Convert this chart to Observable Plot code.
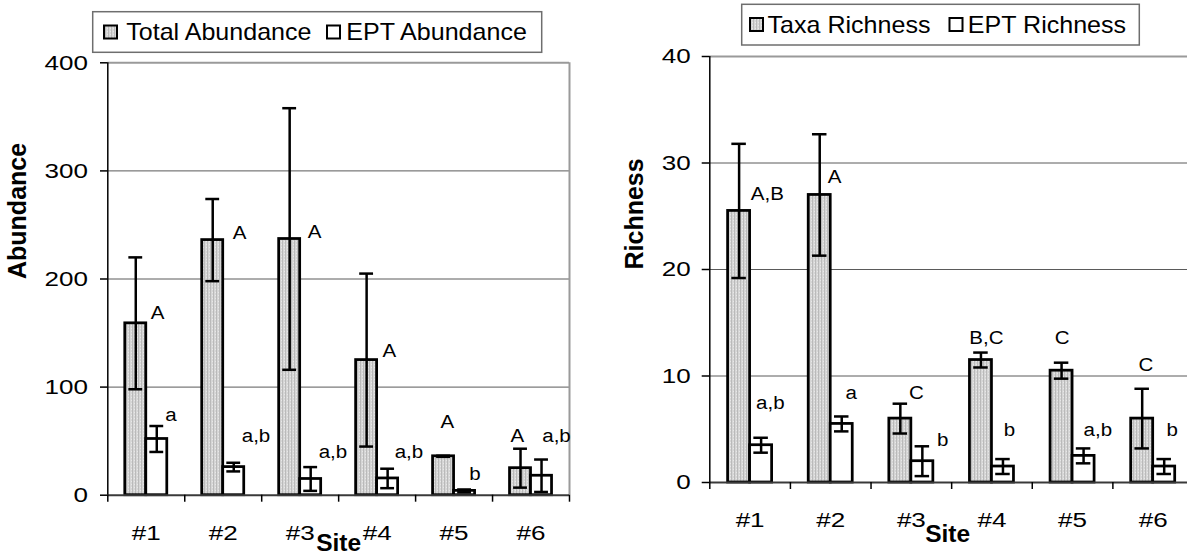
<!DOCTYPE html>
<html>
<head>
<meta charset="utf-8">
<script src="https://cdn.jsdelivr.net/npm/d3@7"></script>
<script src="https://cdn.jsdelivr.net/npm/@observablehq/plot@0.6"></script>
<style>
html, body { margin: 0; padding: 0; background: #fff; overflow: hidden; width: 1187px; height: 556px; }
#wrap { position: relative; width: 1187px; height: 556px; overflow: hidden; background: #fff; }
#wrap > svg { position: absolute; top: 0; }
</style>
</head>
<body>
<div id="wrap"></div>
<script>
// ---------- data ----------
const sites = ["#1", "#2", "#3", "#4", "#5", "#6"];

// Left chart: abundance (mean and error)
const totalAbundance    = [159, 236, 237, 125, 36, 25];
const totalAbundanceErr = [61, 38, 121, 80, 0.5, 18];
const eptAbundance      = [52, 26, 15, 15.5, 4, 18];
const eptAbundanceErr   = [12, 4, 11, 9, 1.3, 15];
const totalAbundanceGroups = ["A", "A", "A", "A", "A", "A"];
const eptAbundanceGroups   = ["a", "a,b", "a,b", "a,b", "b", "a,b"];
const abundanceTicks = [0, 100, 200, 300, 400];

// Right chart: richness (mean and error)
const taxaRichness    = [25.5, 27, 6, 11.5, 10.5, 6];
const taxaRichnessErr = [6.3, 5.7, 1.4, 0.7, 0.75, 2.8];
const eptRichness     = [3.5, 5.5, 2, 1.5, 2.5, 1.5];
const eptRichnessErr  = [0.7, 0.7, 1.4, 0.7, 0.7, 0.7];
const taxaRichnessGroups = ["A,B", "A", "C", "B,C", "C", "C"];
const eptRichnessGroups  = ["a,b", "a", "b", "b", "a,b", "b"];
const richnessTicks = [0, 10, 20, 30, 40];

// letter annotations: baseline height (data units) and nudge (px)
const totalAbundanceLabelY  = [163, 237, 238, 128, 62, 49];
const totalAbundanceLabelDx = [15, 20, 18, 16, -3, -10];
const eptAbundanceLabelY    = [69, 49, 34.6, 34.6, 14.2, 49];
const eptAbundanceLabelDx   = [8.5, 8, 8, 7, 4.7, 0.7];
const taxaRichnessLabelY    = [26.5, 28.1, 7.86, 13.0, 13.0, 10.45];
const taxaRichnessLabelDx   = [11.7, 8, 8.7, -11.7, -6.7, -3.7];
const eptRichnessLabelY     = [6.9, 7.86, 3.4, 4.35, 4.35, 4.35];
const eptRichnessLabelDx    = [-5, 3.7, 14.6, 0.7, 0, 2.4];

const FONT = "'Liberation Sans', Arial, Helvetica, sans-serif";

function patternDefs(id) {
  return `<defs><pattern id="${id}" width="3" height="3" patternUnits="userSpaceOnUse">
    <rect width="3" height="3" fill="#d6d6d6"></rect>
    <rect width="1" height="3" fill="#bababa"></rect>
    <rect x="2" y="1" width="1" height="1" fill="#e8e8e8"></rect>
  </pattern></defs>`;
}

function stretch(svg, selector, sx) {
  svg.querySelectorAll(selector).forEach(t => {
    const tr = t.getAttribute("transform") || "";
    t.setAttribute("transform", tr + ` scale(${sx},1)`);
  });
}

function buildPanel(cfg) {
  const {left, width, marginLeft, marginRight, marginTop, marginBottom, yMax, ticks,
         series, yLabel, yLabelDx, siteDx, siteDy, patternId, tickSizeY, tickPadY, tickPadX} = cfg;
  const bw = (width - marginLeft - marginRight) / sites.length;
  const w = 0.273 * bw;
  const cap = 0.18 * bw;
  const marks = [];

  // grid and frame
  marks.push(Plot.ruleY(ticks.filter(t => t > 0 && t < yMax), {stroke: "#5a5a5a", strokeWidth: 1}));
  marks.push(Plot.ruleY([yMax], {stroke: "#9a9a9a", strokeWidth: 2}));
  marks.push(Plot.ruleX([sites[sites.length - 1]], {dx: bw / 2, stroke: "#9a9a9a", strokeWidth: 2}));

  const rowsBy = series.map(s => sites.map((site, i) => ({
    site, value: s.values[i], lo: s.values[i] - s.err[i], hi: s.values[i] + s.err[i],
    group: s.groups[i], ly: s.labelY[i], ldx: s.labelDx[i]
  })));

  // bars
  rowsBy.forEach((rows, k) => {
    marks.push(Plot.barY(rows, {
      x: "site", y: "value",
      fill: k === 0 ? `url(#${patternId})` : "white",
      stroke: "black", strokeWidth: 2.75,
      insetLeft: k === 0 ? bw / 2 - w : bw / 2,
      insetRight: k === 0 ? bw / 2 : bw / 2 - w
    }));
  });

  // axes lines
  marks.push(Plot.ruleY([0], {stroke: "#3a3a3a", strokeWidth: 2}));
  marks.push(Plot.ruleX([sites[0]], {dx: -bw / 2, stroke: "black", strokeWidth: 1.5}));

  // error bars
  rowsBy.forEach((rows, k) => {
    const off = k === 0 ? -w / 2 : w / 2;
    marks.push(Plot.ruleX(rows, {x: "site", y1: "lo", y2: "hi", dx: off, stroke: "black", strokeWidth: 2.5}));
    for (const end of ["lo", "hi"]) {
      marks.push(Plot.tickY(rows, {
        x: "site", y: end, dx: off, stroke: "black", strokeWidth: 2.5,
        insetLeft: bw / 2 - cap / 2, insetRight: bw / 2 - cap / 2
      }));
    }
  });

  // group letters
  rowsBy.forEach((rows, k) => {
    const off = k === 0 ? -w / 2 : w / 2;
    rows.forEach(r => {
      marks.push(Plot.text([r], {
        x: "site", y: "ly", text: "group", dx: off + r.ldx,
        textAnchor: "start", lineAnchor: "bottom", fontSize: 19, fill: "black",
        ariaDescription: "letters"
      }));
    });
  });

  // axes
  marks.push(Plot.axisY({ticks, tickSize: tickSizeY, tickPadding: tickPadY, fontSize: 21, label: null, strokeWidth: 1.5}));
  marks.push(Plot.axisX({ticks: sites, tickSize: 0, tickPadding: tickPadX, fontSize: 21, label: null}));
  marks.push(Plot.axisX({ticks: sites, tickSize: 7, tickFormat: () => "", label: null, dx: -bw / 2, strokeWidth: 1.5}));
  marks.push(Plot.axisX({ticks: [sites[sites.length - 1]], tickSize: 7, tickFormat: () => "", label: null, dx: bw / 2, strokeWidth: 1.5}));

  // titles
  marks.push(Plot.text([yLabel], {text: d => d, frameAnchor: "left", rotate: -90, dx: yLabelDx,
    lineAnchor: "middle", fontSize: 25, fontWeight: "bold", fill: "black"}));
  marks.push(Plot.text(["Site"], {text: d => d, frameAnchor: "bottom", dx: siteDx, dy: siteDy,
    lineAnchor: "bottom", fontSize: 24.5, fontWeight: "bold", fill: "black"}));

  const svg = Plot.plot({
    width, height: 556, marginLeft, marginRight, marginTop, marginBottom,
    style: {fontFamily: FONT, fontSize: "21px", color: "black", background: "transparent", overflow: "visible"},
    x: {type: "band", domain: sites, padding: 0, round: false, axis: null},
    y: {domain: [0, yMax], axis: null},
    marks
  });
  svg.insertAdjacentHTML("afterbegin", patternDefs(patternId));
  svg.style.left = left + "px";
  stretch(svg, 'g[aria-label="y-axis tick label"] text, g[aria-label="x-axis tick label"] text', 1.24);
  stretch(svg, 'g[aria-description="letters"] text', 1.08);
  return svg;
}

const wrap = document.getElementById("wrap");

wrap.appendChild(buildPanel({
  left: 0, width: 590, marginLeft: 107.3, marginRight: 21, marginTop: 62.3, marginBottom: 61.3,
  yMax: 400, ticks: abundanceTicks, yLabel: "Abundance", yLabelDx: -89.8, siteDx: 0, siteDy: 55.8,
  patternId: "hatchL", tickSizeY: 7.3, tickPadY: 12.5, tickPadX: 30,
  series: [
    {values: totalAbundance, err: totalAbundanceErr, groups: totalAbundanceGroups, labelY: totalAbundanceLabelY, labelDx: totalAbundanceLabelDx},
    {values: eptAbundance, err: eptAbundanceErr, groups: eptAbundanceGroups, labelY: eptAbundanceLabelY, labelDx: eptAbundanceLabelDx}
  ]
}));

wrap.appendChild(buildPanel({
  left: 590, width: 620, marginLeft: 119.3, marginRight: 17, marginTop: 56, marginBottom: 74,
  yMax: 40, ticks: richnessTicks, yLabel: "Richness", yLabelDx: -75.3, siteDx: -4, siteDy: 59.7,
  patternId: "hatchR", tickSizeY: 7.6, tickPadY: 11.5, tickPadX: 29.7,
  series: [
    {values: taxaRichness, err: taxaRichnessErr, groups: taxaRichnessGroups, labelY: taxaRichnessLabelY, labelDx: taxaRichnessLabelDx},
    {values: eptRichness, err: eptRichnessErr, groups: eptRichnessGroups, labelY: eptRichnessLabelY, labelDx: eptRichnessLabelDx}
  ]
}));

// ---------- legends ----------
const legendItems = [
  {box: [92.7, 11.7, 449, 40.6], baseline: 40, sw: 25.5, entries: [
    {label: "Total Abundance", swX: 104, textX: 126.2, gray: true},
    {label: "EPT Abundance", swX: 327, textX: 346.2, gray: false}]},
  {box: [741.7, 4.3, 397.6, 40.7], baseline: 32.7, sw: 18, entries: [
    {label: "Taxa Richness", swX: 750, textX: 767.5, gray: true},
    {label: "EPT Richness", swX: 949.5, textX: 967.8, gray: false}]}
];
const lsvg = d3.create("svg").attr("width", 1187).attr("height", 60).style("left", "0px").style("pointer-events", "none");
lsvg.html(patternDefs("hatchLeg"));
for (const lg of legendItems) {
  const [bx, by, bwid, bh] = lg.box;
  lsvg.append("rect").attr("x", bx).attr("y", by).attr("width", bwid).attr("height", bh)
    .attr("fill", "white").attr("stroke", "#6e6e6e").attr("stroke-width", 1.5);
  for (const e of lg.entries) {
    lsvg.append("rect").attr("x", e.swX).attr("y", lg.sw).attr("width", 13).attr("height", 13)
      .attr("fill", e.gray ? "url(#hatchLeg)" : "white").attr("stroke", "black").attr("stroke-width", 2);
    lsvg.append("text").attr("transform", `translate(${e.textX},${lg.baseline}) scale(1.09,1)`)
      .attr("font-family", FONT).attr("font-size", 23).attr("fill", "black").text(e.label);
  }
}
wrap.appendChild(lsvg.node());
</script>
</body>
</html>
